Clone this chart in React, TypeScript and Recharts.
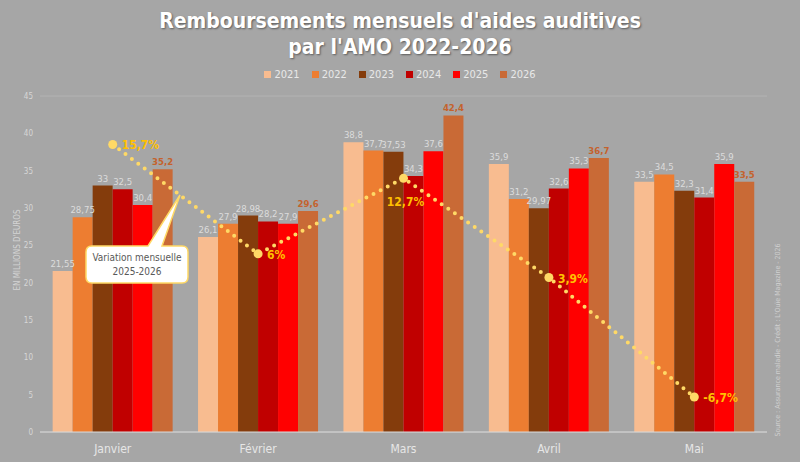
import React from 'react';
import {
  ComposedChart,
  Bar,
  Line,
  XAxis,
  YAxis,
  CartesianGrid,
  LabelList,
} from 'recharts';

const months = ['Janvier', 'Février', 'Mars', 'Avril', 'Mai'];
const years = ['2021', '2022', '2023', '2024', '2025', '2026'];
const colors = ['#f8bc90', '#ed7d31', '#843c0c', '#c00000', '#ff0000', '#c96a36'];

const v2021 = [21.55, 26.1, 38.8, 35.9, 33.5];
const v2022 = [28.75, 27.9, 37.7, 31.2, 34.5];
const v2023 = [33, 28.98, 37.53, 29.97, 32.3];
const v2024 = [32.5, 28.2, 34.3, 32.6, 31.4];
const v2025 = [30.4, 27.9, 37.6, 35.3, 35.9];
const v2026 = [35.2, 29.6, 42.4, 36.7, 33.5];
const variation = [15.7, 6, 12.7, 3.9, -6.7];

const yTicks = [0, 5, 10, 15, 20, 25, 30, 35, 40, 45];

const series = [v2021, v2022, v2023, v2024, v2025, v2026];

const data = months.map((m, i) => {
  const row: Record<string, number | string> = { month: m, variation: variation[i] };
  years.forEach((y, k) => {
    row[y] = series[k][i];
  });
  return row;
});

const fmt = (v: number) => String(v).replace('.', ',');

const FONT = '"DejaVu Sans Condensed", "DejaVu Sans", sans-serif';

const VarLabel = (props: any) => {
  const { x, y, value, index } = props;
  const below = index === 2;
  return (
    <text
      x={below ? x + 2 : x + 9}
      y={below ? y + 28 : y + 5}
      textAnchor={below ? 'middle' : 'start'}
      fill="#ffc000"
      fontSize={12}
      fontWeight="bold"
      fontFamily={FONT}
    >
      {fmt(value)}%
    </text>
  );
};

const VarDot = (props: any) => {
  const { cx, cy } = props;
  return <circle cx={cx} cy={cy} r={4.5} fill="#ffd966" />;
};

export default function App() {
  return (
    <div style={{ position: 'relative', width: 800, height: 462, background: '#a6a6a6', fontFamily: FONT, overflow: 'hidden' }}>
      <style>{`body{margin:0}`}</style>
      <div
        style={{
          position: 'absolute',
          top: 8,
          left: 0,
          width: 800,
          textAlign: 'center',
          color: '#ffffff',
          fontWeight: 'bold',
          fontSize: 21,
          lineHeight: '26px',
          textShadow: '1px 1px 2px rgba(0,0,0,0.45)',
        }}
      >
        Remboursements mensuels d'aides auditives
        <br />
        par l'AMO 2022-2026
      </div>
      <div
        style={{
          position: 'absolute',
          top: 68,
          left: 0,
          width: 800,
          display: 'flex',
          justifyContent: 'center',
          gap: 12,
          fontSize: 11,
          color: '#e8e8e8',
        }}
      >
        {years.map((y, k) => (
          <span key={y} style={{ display: 'flex', alignItems: 'center', gap: 3 }}>
            <span style={{ width: 7, height: 7, background: colors[k], display: 'inline-block' }} />
            {y}
          </span>
        ))}
      </div>
      <div
        style={{
          position: 'absolute',
          left: 17,
          top: 250,
          transform: 'translate(-50%, -50%) rotate(-90deg)',
          fontSize: 8,
          color: '#d4d4d4',
          whiteSpace: 'nowrap',
        }}
      >
        EN MILLIONS D'EUROS
      </div>
      <div
        style={{
          position: 'absolute',
          left: 778,
          top: 340,
          transform: 'translate(-50%, -50%) rotate(-90deg)',
          fontSize: 7,
          color: '#d0d0d0',
          whiteSpace: 'nowrap',
        }}
      >
        Source : Assurance maladie - Crédit : L'Ouïe Magazine - 2026
      </div>
      <div style={{ position: 'absolute', left: 0, top: 0 }}>
        <ComposedChart
          width={800}
          height={462}
          data={data}
          margin={{ top: 96, right: 33, left: 0, bottom: 0 }}
          barCategoryGap="8.7%"
          barGap={0}
        >
          <CartesianGrid vertical={false} stroke="#b3b3b3" />
          <XAxis
            dataKey="month"
            height={30}
            tickLine={false}
            axisLine={{ stroke: '#d9d9d9' }}
            tick={{ fill: '#e6e6e6', fontSize: 12, fontFamily: FONT }}
            tickMargin={6}
          />
          <YAxis
            yAxisId="val"
            width={40}
            domain={[0, 45]}
            ticks={yTicks}
            tickLine={false}
            axisLine={false}
            tickSize={0}
            tickMargin={7}
            tick={{ fill: '#d6d6d6', fontSize: 8, fontFamily: FONT }}
          />
          <YAxis yAxisId="pct" orientation="right" hide domain={[-9.8, 20]} />
          {years.map((y, k) => (
            <Bar key={y} yAxisId="val" dataKey={y} fill={colors[k]} isAnimationActive={false}>
              <LabelList
                dataKey={y}
                position="top"
                offset={4}
                formatter={(v: any) => fmt(v)}
                fill={k === 5 ? '#c4622d' : '#dcdcdc'}
                fontSize={9.5}
                fontWeight={k === 5 ? 'bold' : 'normal'}
                fontFamily={FONT}
              />
            </Bar>
          ))}
          <Line
            yAxisId="pct"
            dataKey="variation"
            type="linear"
            stroke="#ffd966"
            strokeWidth={4}
            strokeDasharray="0 8"
            strokeLinecap="round"
            dot={<VarDot />}
            activeDot={false}
            isAnimationActive={false}
          >
            <LabelList dataKey="variation" content={<VarLabel />} />
          </Line>
        </ComposedChart>
      </div>
      <svg width={800} height={462} style={{ position: 'absolute', left: 0, top: 0, pointerEvents: 'none' }}>
        <path
          d="M92,246 L148,246 L180,195 L162,246 L182,246 Q188,246 188,252 L188,277 Q188,283 182,283 L92,283 Q86,283 86,277 L86,252 Q86,246 92,246 Z"
          fill="#ffffff"
          stroke="#ffd966"
          strokeWidth={1.5}
        />
        <text x={137} y={261} textAnchor="middle" fontSize={10} fill="#595959" fontFamily={FONT}>
          Variation mensuelle
        </text>
        <text x={137} y={275} textAnchor="middle" fontSize={10} fill="#595959" fontFamily={FONT}>
          2025-2026
        </text>
      </svg>
    </div>
  );
}
